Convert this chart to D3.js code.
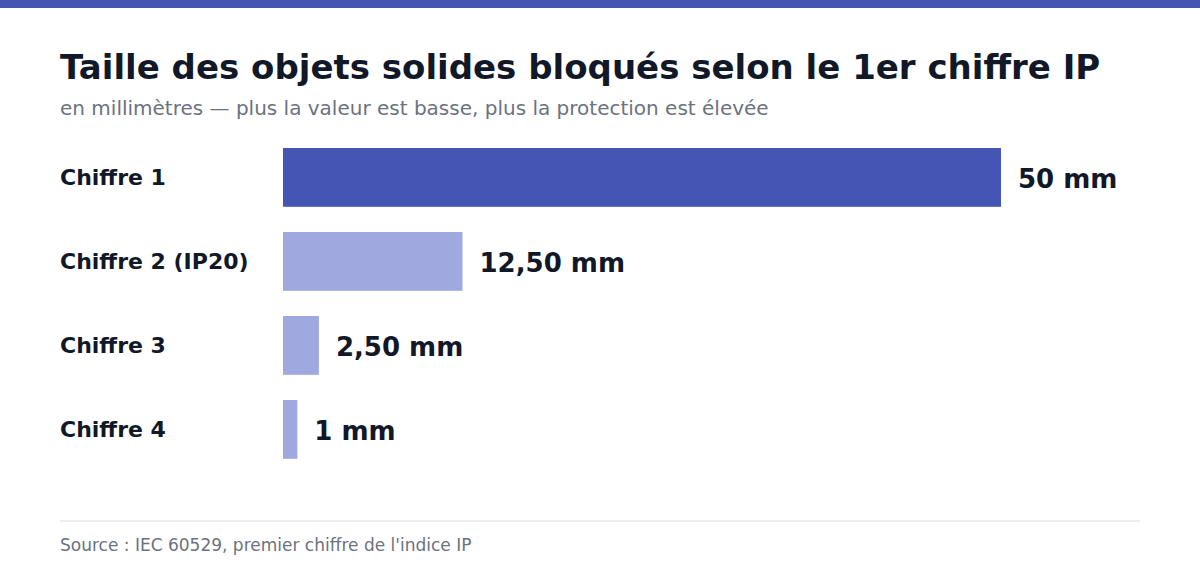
<!DOCTYPE html>
<html>
<head>
<meta charset="utf-8">
<script src="https://cdn.jsdelivr.net/npm/d3@7"></script>
<style>
  body { margin: 0; background: #fff; }
  svg { display: block; font-family: "DejaVu Sans", sans-serif; }
</style>
</head>
<body>
<svg id="viz_area" width="1200" height="576"></svg>
<script>
const categories = ["Chiffre 1", "Chiffre 2 (IP20)", "Chiffre 3", "Chiffre 4"]
const values = [50, 12.5, 2.5, 1]
const valueLabels = ["50 mm", "12,50 mm", "2,50 mm", "1 mm"]

const title = "Taille des objets solides bloqués selon le 1er chiffre IP"
const subtitle = "en millimètres — plus la valeur est basse, plus la protection est élevée"
const source = "Source : IEC 60529, premier chiffre de l'indice IP"

const svg = d3.select('#viz_area')

// bandeau du haut
svg.append('rect')
  .attr('x', 0).attr('y', 0)
  .attr('width', 1200).attr('height', 8)
  .attr('fill', '#4555b4')

svg.append('text')
  .attr('x', 60).attr('y', 79)
  .attr('font-size', 34).attr('font-weight', 'bold')
  .attr('fill', '#111827')
  .text(title)

svg.append('text')
  .attr('x', 60).attr('y', 115)
  .attr('font-size', 20)
  .attr('fill', '#6b7280')
  .text(subtitle)

const xScale = d3.scaleLinear()
  .domain([0, d3.max(values)])
  .range([283, 1001])

const yScale = d3.scaleBand()
  .domain(categories)
  .range([148, 458.8])
  .paddingInner(0.3)

const rows = svg.append('g').selectAll('g')
  .data(categories)
  .enter()
  .append('g')

rows.append('rect')
  .attr('x', xScale(0))
  .attr('y', function (d) { return yScale(d) })
  .attr('width', function (d, i) { return xScale(values[i]) - xScale(0) })
  .attr('height', yScale.bandwidth())
  .attr('fill', function (d, i) { return i === 0 ? '#4555b4' : '#9fa9e0' })

rows.append('text')
  .attr('x', 60)
  .attr('y', function (d) { return yScale(d) + yScale.bandwidth() / 2 })
  .attr('dy', '0.36em')
  .attr('font-size', 22).attr('font-weight', 'bold')
  .attr('fill', '#111827')
  .text(function (d) { return d })

rows.append('text')
  .attr('x', function (d, i) { return xScale(values[i]) + 17 })
  .attr('y', function (d) { return yScale(d) + yScale.bandwidth() / 2 })
  .attr('dy', '0.4em')
  .attr('font-size', 26).attr('font-weight', 'bold')
  .attr('fill', '#111827')
  .text(function (d, i) { return valueLabels[i] })

svg.append('line')
  .attr('x1', 60).attr('x2', 1140)
  .attr('y1', 521).attr('y2', 521)
  .attr('stroke', '#e5e7eb').attr('stroke-width', 1.5)

svg.append('text')
  .attr('x', 60).attr('y', 551)
  .attr('font-size', 17)
  .attr('fill', '#6b7280')
  .text(source)
</script>
</body>
</html>
